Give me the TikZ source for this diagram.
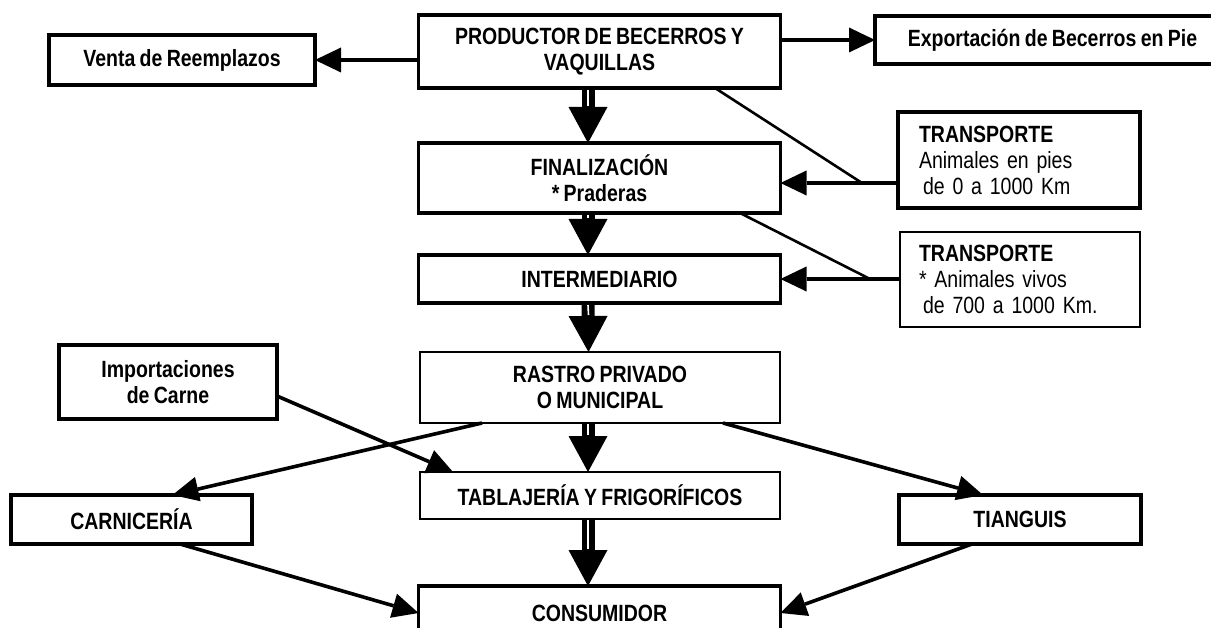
\documentclass[tikz,border=0pt]{standalone}
\usepackage{fontspec}
\setmainfont{Liberation Sans}[FakeStretch=0.83, WordSpace=0.8]
\usetikzlibrary{arrows.meta,calc}
\begin{document}
\begin{tikzpicture}[x=1pt,y=-1pt,
  box/.style={draw, line width=3.2pt, rectangle, outer sep=0pt, inner sep=0pt,
    align=center, font=\fontsize{23.5}{26}\selectfont\bfseries},
  tbox/.style={box, line width=1.6pt},
  arr/.style={line width=3.6pt, -{Triangle[length=26pt,width=25pt,line width=0pt]}},
  link/.style={line width=2.6pt},
  bigarr/.style={line width=13pt, -{Triangle[length=36pt,width=39pt,line width=0pt]}},
  gap/.style={white, line width=1.6pt}]
\clip (0,0) rectangle (1211,628);
\fill[white] (0,0) rectangle (1211,628);

% nodes
\node[box, minimum width=266pt, minimum height=50pt] (venta) at (182,60) {Venta de Reemplazos};
\node[box, minimum width=362pt, minimum height=73pt] (prod) at (599.5,51.5) {PRODUCTOR DE BECERROS Y\\VAQUILLAS};
\node[box, minimum width=355pt, minimum height=48pt] (expo) at (1052.5,40) {Exportación de Becerros en Pie};
\node[box, minimum width=362pt, minimum height=70pt] (fin) at (599.5,178) {FINALIZACIÓN\\* Praderas};
\node[box, minimum width=242pt, minimum height=96pt, text width=200pt, align=left] (t1) at (1019,160)
  {TRANSPORTE\\\mdseries Animales en pies\\\hspace*{4pt}de 0 a 1000 Km};
\node[box, minimum width=362pt, minimum height=48pt] (inter) at (599.5,279) {INTERMEDIARIO};
\node[tbox, minimum width=240pt, minimum height=95pt, text width=202pt, align=left] (t2) at (1020,279.5)
  {TRANSPORTE\\\mdseries * Animales vivos\\\hspace*{4pt}de 700 a 1000 Km.};
\node[tbox, minimum width=360pt, minimum height=71pt] (rastro) at (600,387.5) {RASTRO PRIVADO\\O MUNICIPAL};
\node[box, minimum width=218pt, minimum height=74pt] (imp) at (168,382) {Importaciones\\de Carne};
\node[tbox, minimum width=360pt, minimum height=47pt] (tabla) at (600,495.5) {TABLAJERÍA Y FRIGORÍFICOS};
\node[box, minimum width=241pt, minimum height=49pt] (carn) at (131.5,519.5) {CARNICERÍA};
\node[box, minimum width=242pt, minimum height=49pt] (tiang) at (1020,519.5) {TIANGUIS};
\node[box, minimum width=362pt, minimum height=54pt] (cons) at (599.5,613) {CONSUMIDOR};

% side arrows
\draw[arr] (prod.west |- venta.east) -- (venta.east);
\draw[arr] (prod.east |- expo.west) -- (expo.west);
\coordinate (j1) at (862,183);
\draw[arr] (t1.west |- j1) -- (fin.east |- j1);
\draw[link] ([xshift=115.5pt]prod.south) -- (j1);
\coordinate (j2) at (870,279);
\draw[arr] (t2.west |- j2) -- (inter.east |- j2);
\draw[link] ([xshift=140.5pt]fin.south) -- (j2);

% main vertical double arrows
\draw[bigarr] ([xshift=-11.5pt]prod.south) -- ([xshift=-11.5pt]fin.north);
\draw[gap] ([xshift=-11.5pt,yshift=-2pt]prod.south) -- ($([xshift=-11.5pt]fin.north)+(0,-37)$);
\draw[bigarr] ([xshift=-11.5pt]fin.south) -- ([xshift=-11.5pt]inter.north);
\draw[gap] ([xshift=-11.5pt,yshift=-2pt]fin.south) -- ($([xshift=-11.5pt]inter.north)+(0,-37)$);
\draw[bigarr] ([xshift=-11.5pt]inter.south) -- ([xshift=-11.5pt]rastro.north);
\draw[gap] ([xshift=-11.5pt,yshift=-2pt]inter.south) -- ($([xshift=-11.5pt]rastro.north)+(0,-37)$);
\draw[bigarr] ([xshift=-12pt]rastro.south) -- ([xshift=-12pt]tabla.north);
\draw[gap] ([xshift=-12pt,yshift=-1pt]rastro.south) -- ($([xshift=-12pt]tabla.north)+(0,-37)$);
\draw[bigarr] ([xshift=-12pt]tabla.south) -- ([xshift=-11.5pt]cons.north);
\draw[gap] ([xshift=-12pt,yshift=-1pt]tabla.south) -- ($([xshift=-11.5pt]cons.north)+(0,-37)$);

% diagonal arrows
\draw[arr] ([yshift=-14pt]imp.east) -- ([xshift=-147pt]tabla.north);
\draw[arr] ([xshift=-118pt]rastro.south) -- ([xshift=41pt]carn.north);
\draw[arr] ([xshift=123pt]rastro.south) -- ([xshift=-37pt]tiang.north);
\draw[arr] ([xshift=48.5pt]carn.south) -- (cons.west);
\draw[arr] ([xshift=-48pt]tiang.south) -- (cons.east);
\end{tikzpicture}
\end{document}
